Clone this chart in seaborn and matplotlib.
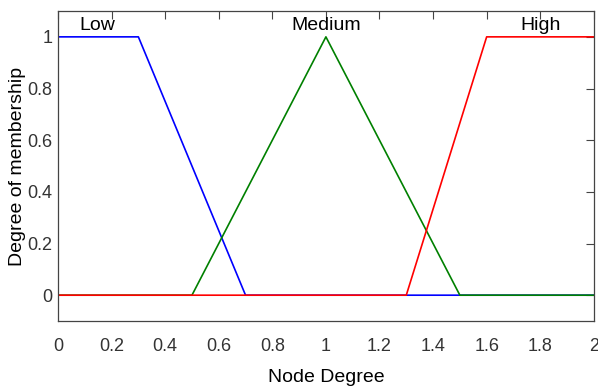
import matplotlib
matplotlib.use("Agg")
import matplotlib.pyplot as plt
import seaborn as sns
import pandas as pd

# Data
x_low = [0.0, 0.3, 0.7, 2.0]
y_low = [1.0, 1.0, 0.0, 0.0]
x_med = [0.0, 0.5, 1.0, 1.5, 2.0]
y_med = [0.0, 0.0, 1.0, 0.0, 0.0]
x_high = [0.0, 1.3, 1.6, 2.0]
y_high = [0.0, 0.0, 1.0, 1.0]
labels = ["Low", "Medium", "High"]
label_x = [0.146, 1.0, 1.8]
xticks = [0, 0.2, 0.4, 0.6, 0.8, 1, 1.2, 1.4, 1.6, 1.8, 2]
xticklabels = ["0", "0.2", "0.4", "0.6", "0.8", "1", "1.2", "1.4", "1.6", "1.8", "2"]
yticks = [0, 0.2, 0.4, 0.6, 0.8, 1]
yticklabels = ["0", "0.2", "0.4", "0.6", "0.8", "1"]

sns.set_style("white")
plt.rcParams["font.family"] = ["Liberation Sans", "DejaVu Sans"]

fig = plt.figure(figsize=(5.98, 3.87), dpi=100)
ax = fig.add_axes([0.097, 0.1705, 0.896, 0.801])

colors = ["#0000ff", "#008000", "#ff0000"]
for xs, ys, c in [(x_low, y_low, colors[0]), (x_med, y_med, colors[1]), (x_high, y_high, colors[2])]:
    df = pd.DataFrame({"x": xs, "y": ys})
    sns.lineplot(data=df, x="x", y="y", sort=False, color=c, linewidth=1.2, ax=ax, estimator=None)

for lab, lx in zip(labels, label_x):
    ax.text(lx, 1.012, lab, ha="center", va="bottom", fontsize=14, color="black")

ax.set_xlim(0, 2)
ax.set_ylim(-0.1, 1.1)
ax.set_xticks(xticks)
ax.set_xticklabels(xticklabels)
ax.set_yticks(yticks)
ax.set_yticklabels(yticklabels)
ax.tick_params(direction="in", length=6, width=0.8, colors="#444444", labelcolor="#333333",
               labelsize=13, top=True, right=True)
ax.tick_params(axis="y", pad=4)
ax.tick_params(axis="x", pad=12)
for s in ax.spines.values():
    s.set_visible(True)
    s.set_color("#444444")
    s.set_linewidth(0.9)
ax.set_xlabel("Node Degree", fontsize=14, color="black", labelpad=10)
ax.set_ylabel("Degree of membership", fontsize=14, color="black")
ax.yaxis.set_label_coords(-0.06, 0.5)

fig.savefig("out.png", dpi=100)
